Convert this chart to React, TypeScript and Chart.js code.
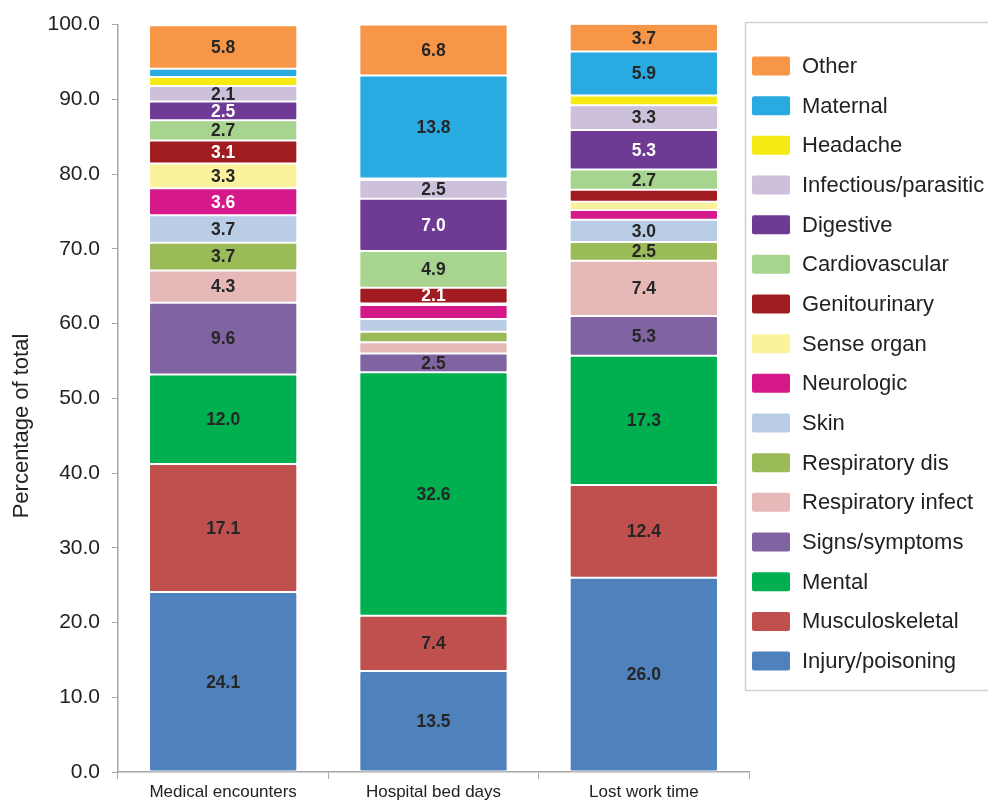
import React, { useEffect, useRef } from "react";
import { Chart, registerables } from "chart.js";

Chart.register(...registerables);

const categories = ["Medical encounters", "Hospital bed days", "Lost work time"];
const seriesNames = [
  "Injury/poisoning", "Musculoskeletal", "Mental", "Signs/symptoms",
  "Respiratory infect", "Respiratory dis", "Skin", "Neurologic",
  "Sense organ", "Genitourinary", "Cardiovascular", "Digestive",
  "Infectious/parasitic", "Headache", "Maternal", "Other",
];
const injury = [24.1, 13.5, 26.0];
const musculo = [17.1, 7.4, 12.4];
const mental = [12.0, 32.6, 17.3];
const signs = [9.6, 2.5, 5.3];
const respInfect = [4.3, 1.5, 7.4];
const respDis = [3.7, 1.4, 2.5];
const skin = [3.7, 1.7, 3.0];
const neuro = [3.6, 1.9, 1.3];
const sense = [3.3, 0.2, 1.1];
const genito = [3.1, 2.1, 1.6];
const cardio = [2.7, 4.9, 2.7];
const digestive = [2.5, 7.0, 5.3];
const infectious = [2.1, 2.5, 3.3];
const headache = [1.2, 0.2, 1.3];
const maternal = [1.1, 13.8, 5.9];
const other = [5.8, 6.8, 3.7];
const seriesValues = [
  injury, musculo, mental, signs, respInfect, respDis, skin, neuro,
  sense, genito, cardio, digestive, infectious, headache, maternal, other,
];
const colors = [
  "#4F81BD", "#C0504D", "#00B050", "#8064A2", "#E6B9B8", "#9BBB59",
  "#B9CDE5", "#D5198A", "#FCF29C", "#A11C20", "#A7D48E", "#6E3A93",
  "#CCC0DA", "#F5EA14", "#29ABE2", "#F79646",
];
const whiteLabelSeries = ["Neurologic", "Genitourinary", "Digestive"];
const yTicks = [0, 10, 20, 30, 40, 50, 60, 70, 80, 90, 100];

const FONT = "Arial, 'Liberation Sans', sans-serif";

const labelPlugin = {
  id: "segLabels",
  afterDatasetsDraw(chart: any) {
    const ctx = chart.ctx;
    ctx.save();
    ctx.font = `bold 17.5px ${FONT}`;
    ctx.textAlign = "center";
    ctx.textBaseline = "middle";
    chart.data.datasets.forEach((ds: any, i: number) => {
      const meta = chart.getDatasetMeta(i);
      meta.data.forEach((bar: any, j: number) => {
        const v = ds.data[j];
        if (v < 2) return;
        const y = (bar.y + bar.base) / 2;
        ctx.fillStyle = whiteLabelSeries.includes(ds.label) ? "#ffffff" : "#262626";
        ctx.fillText(v.toFixed(1), bar.x, y + 1);
      });
    });
    ctx.restore();
  },
};

const legendPlugin = {
  id: "customLegend",
  afterDraw(chart: any) {
    const ctx = chart.ctx;
    ctx.save();
    ctx.strokeStyle = "#d0d0d0";
    ctx.lineWidth = 1.5;
    ctx.strokeRect(745.5, 22.5, 260, 668);
    ctx.font = `22px ${FONT}`;
    ctx.textAlign = "left";
    ctx.textBaseline = "middle";
    const ds = chart.data.datasets.slice().reverse();
    ds.forEach((d: any, k: number) => {
      const cy = 66 + k * 39.67;
      ctx.fillStyle = d.backgroundColor;
      ctx.beginPath();
      ctx.roundRect(752, cy - 9.5, 38, 19, 2);
      ctx.fill();
      ctx.fillStyle = "#222222";
      ctx.fillText(d.label, 802, cy + 1);
    });
    // y-axis title
    ctx.translate(22, 426);
    ctx.rotate(-Math.PI / 2);
    ctx.textAlign = "center";
    ctx.fillStyle = "#222222";
    ctx.fillText("Percentage of total", 0, 0);
    ctx.restore();
  },
};

export default function App() {
  const ref = useRef<HTMLCanvasElement>(null);
  useEffect(() => {
    if (!ref.current) return;
    const chart = new Chart(ref.current, {
      type: "bar",
      data: {
        labels: categories,
        datasets: seriesNames.map((name, i) => ({
          label: name,
          data: seriesValues[i],
          backgroundColor: colors[i],
          borderColor: "#ffffff",
          borderWidth: 1,
          borderSkipped: false,
          borderRadius: { topLeft: 2, topRight: 2, bottomLeft: 2, bottomRight: 2 },
          barPercentage: 0.705,
          categoryPercentage: 1,
        })),
      },
      options: {
        responsive: false,
        animation: false,
        layout: { padding: { top: 20, right: 239, left: 0, bottom: 0 } },
        plugins: { legend: { display: false }, tooltip: { enabled: false } },
        scales: {
          x: {
            stacked: true,
            grid: { drawOnChartArea: false, drawTicks: true, tickLength: 7, color: "#a6a6a6", offset: true },
            border: { color: "#a6a6a6", width: 1.5 },
            ticks: { font: { family: FONT, size: 17 }, color: "#222222", padding: 3 },
            afterFit: (s: any) => { s.height = 30; },
          },
          y: {
            stacked: true,
            min: 0,
            max: 100,
            afterBuildTicks: (s: any) => { s.ticks = yTicks.map((v) => ({ value: v })); },
            grid: { drawOnChartArea: false, drawTicks: true, tickLength: 6, color: "#a6a6a6" },
            border: { color: "#a6a6a6", width: 1.5 },
            ticks: {
              font: { family: FONT, size: 21 },
              color: "#222222",
              padding: 12,
              callback: (v: any) => Number(v).toFixed(1),
            },
            afterFit: (s: any) => { s.width = 118; },
          },
        },
      },
      plugins: [labelPlugin, legendPlugin],
    });
    return () => chart.destroy();
  }, []);
  return (
    <div style={{ position: "absolute", left: 0, top: 0, width: 988, height: 802, overflow: "hidden", background: "#fff" }}>
      <canvas ref={ref} width={988} height={802} />
    </div>
  );
}
